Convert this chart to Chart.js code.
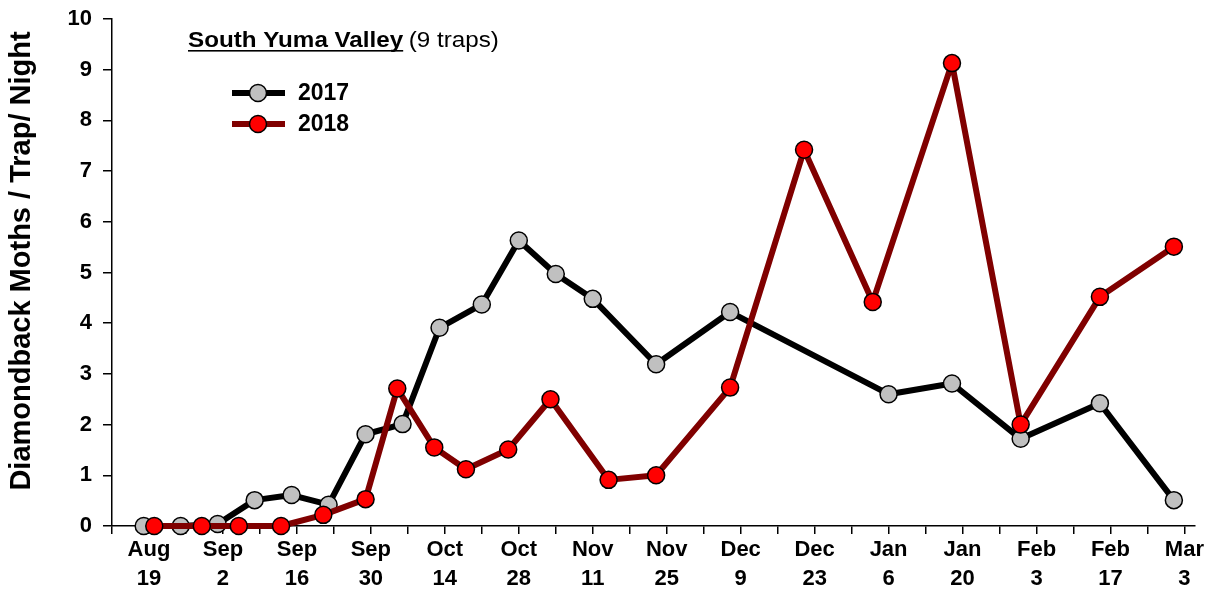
<!DOCTYPE html>
<html>
<head>
<meta charset="utf-8">
<script src="https://cdn.jsdelivr.net/npm/chart.js@4.4.0/dist/chart.umd.min.js"></script>
<style>
  html, body { margin: 0; padding: 0; background: #fff; }
  #wrap { width: 1210px; height: 589px; position: relative; }
</style>
</head>
<body>
<div id="wrap"><canvas id="myChart"></canvas></div>
<script>
// days counted from Aug 19
const days2017 = [-1, 6, 13, 20, 27, 34, 41, 48, 55, 63, 70, 77, 84, 96, 110, 140, 152, 165, 180, 194];
const moths2017 = [0, 0, 0.04, 0.51, 0.61, 0.42, 1.81, 2.01, 3.91, 4.37, 5.63, 4.97, 4.48, 3.19, 4.22, 2.6, 2.81, 1.72, 2.42, 0.51];
const days2018 = [1, 10, 17, 25, 33, 41, 47, 54, 60, 68, 76, 87, 96, 110, 124, 137, 152, 165, 180, 194];
const moths2018 = [0, 0, 0, 0, 0.22, 0.53, 2.71, 1.55, 1.12, 1.51, 2.5, 0.91, 1.0, 2.73, 7.42, 4.42, 9.13, 2.0, 4.52, 5.51];

const tickDays = [0, 14, 28, 42, 56, 70, 84, 98, 112, 126, 140, 154, 168, 182, 196];
const tickMonths = ['Aug', 'Sep', 'Sep', 'Sep', 'Oct', 'Oct', 'Nov', 'Nov', 'Dec', 'Dec', 'Jan', 'Jan', 'Feb', 'Feb', 'Mar'];
const tickDates = ['19', '2', '16', '30', '14', '28', '11', '25', '9', '23', '6', '20', '3', '17', '3'];

const seriesNames = ['2017', '2018'];
const plotTitle = 'South Yuma Valley';
const plotSubtitle = '(9 traps)';
const yTitle = 'Diamondback Moths / Trap/ Night';

const FONT = 'Arial, "Liberation Sans", sans-serif';

function toPoints(xs, ys) {
    return xs.map((x, i) => ({ x: x, y: ys[i] }));
}

// title, legend and y title drawn on top
const overlayPlugin = {
    id: 'overlay',
    afterDraw(chart) {
        const c = chart.ctx;
        c.save();
        c.fillStyle = '#000';
        c.textBaseline = 'alphabetic';
        c.textAlign = 'left';

        // plot title, a bit wide like the original
        c.save();
        c.translate(188, 47);
        c.scale(1.1, 1);
        c.font = 'bold 22px ' + FONT;
        c.fillText(plotTitle, 0, 0);
        const w = c.measureText(plotTitle).width;
        c.fillRect(0, 3, w, 1.6);
        c.font = '22px ' + FONT;
        c.fillText(plotSubtitle, w + 5, 0);
        c.restore();

        // y axis title
        c.save();
        c.translate(22, 261);
        c.rotate(-Math.PI / 2);
        c.textAlign = 'center';
        c.textBaseline = 'middle';
        c.font = 'bold 29px ' + FONT;
        c.fillText(yTitle, 0, 0);
        c.restore();

        const rows = [
            { y: 93, line: '#000000', fill: '#c0c0c0', label: seriesNames[0] },
            { y: 124, line: '#800000', fill: '#ff0000', label: seriesNames[1] }
        ];
        rows.forEach(r => {
            c.strokeStyle = r.line;
            c.lineWidth = 6;
            c.beginPath();
            c.moveTo(232, r.y);
            c.lineTo(285, r.y);
            c.stroke();
            c.beginPath();
            c.arc(258, r.y, 8.5, 0, Math.PI * 2);
            c.fillStyle = r.fill;
            c.fill();
            c.lineWidth = 1.5;
            c.strokeStyle = '#000';
            c.stroke();
            c.fillStyle = '#000';
            c.font = 'bold 23px ' + FONT;
            c.textBaseline = 'middle';
            c.fillText(r.label, 298, r.y + 1);
        });
        c.restore();
    }
};

const ctx = document.getElementById('myChart').getContext('2d');
const myChart = new Chart(ctx, {
    type: 'line',
    data: {
        datasets: [
            {
                label: seriesNames[0],
                data: toPoints(days2017, moths2017),
                borderColor: '#000000',
                borderWidth: 6,
                borderJoinStyle: 'round',
                pointBackgroundColor: '#c0c0c0',
                pointBorderColor: '#000000',
                pointBorderWidth: 1.5,
                pointRadius: 8.5,
                tension: 0,
                clip: false,
                order: 2
            },
            {
                label: seriesNames[1],
                data: toPoints(days2018, moths2018),
                borderColor: '#800000',
                borderWidth: 6,
                borderJoinStyle: 'round',
                pointBackgroundColor: '#ff0000',
                pointBorderColor: '#000000',
                pointBorderWidth: 1.5,
                pointRadius: 8.5,
                tension: 0,
                clip: false,
                order: 1
            }
        ]
    },
    options: {
        responsive: true,
        maintainAspectRatio: false,
        animation: false,
        layout: { padding: { top: 19, right: 15, left: 0, bottom: 0 } },
        plugins: {
            legend: { display: false },
            tooltip: { enabled: false }
        },
        scales: {
            x: {
                type: 'linear',
                min: -7,
                max: 198,
                grid: { drawOnChartArea: false, color: '#000', lineWidth: 1.5, tickLength: 8 },
                border: { color: '#000', width: 1.5 },
                ticks: {
                    stepSize: 7,
                    includeBounds: false,
                    autoSkip: false,
                    maxRotation: 0,
                    color: '#000',
                    padding: 1,
                    font: { family: FONT, size: 22, weight: 'bold', lineHeight: 1.32 },
                    callback: function (value) {
                        const i = tickDays.indexOf(value);
                        return i >= 0 ? [tickMonths[i], tickDates[i]] : '';
                    }
                },
                afterFit: function (scale) {
                    scale.paddingLeft = 0;
                    scale.paddingRight = 0;
                    scale.height = 63;
                }
            },
            y: {
                min: 0,
                max: 10,
                grid: { drawOnChartArea: false, color: '#000', lineWidth: 1.5, tickLength: 9 },
                border: { color: '#000', width: 1.5 },
                ticks: {
                    stepSize: 1,
                    color: '#000',
                    padding: 11,
                    font: { family: FONT, size: 22, weight: 'bold' }
                },
                afterFit: function (scale) {
                    scale.width = 112;
                    scale.paddingTop = 0;
                    scale.paddingBottom = 0;
                }
            }
        }
    },
    plugins: [overlayPlugin]
});
</script>
</body>
</html>
